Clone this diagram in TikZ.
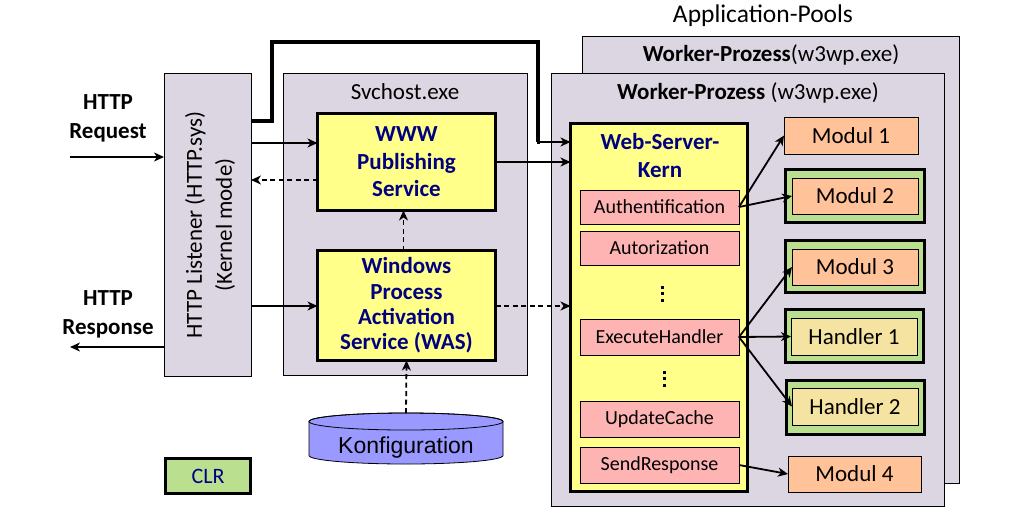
\documentclass[tikz,border=0pt]{standalone}
\usepackage{fontspec}
\setmainfont{Carlito}
\newfontfamily\arialf{Liberation Sans}
\usetikzlibrary{arrows.meta}
\definecolor{lav}{HTML}{DCD6E2}
\definecolor{yel}{HTML}{FFFF8A}
\definecolor{pinkc}{HTML}{FFB4B4}
\definecolor{oran}{HTML}{FFC299}
\definecolor{grn}{HTML}{BAE08F}
\definecolor{hand}{HTML}{F5E3A1}
\definecolor{navy}{HTML}{000080}
\definecolor{konfc}{HTML}{9999FF}
\tikzset{
  box/.style={draw, inner sep=0pt, outer sep=0pt, line width=0.8pt},
  thickbox/.style={draw, inner sep=0pt, outer sep=0pt, line width=3.5pt},
  procbox/.style={box, fill=lav},
  svcbox/.style={thickbox, fill=yel, text=navy, align=center, font=\fontsize{23}{27.5}\selectfont\bfseries},
  stepbox/.style={box, fill=pinkc, minimum width=159pt, font=\fontsize{20}{24}\selectfont},
  modbox/.style={box, fill=oran, font=\fontsize{23}{27}\selectfont},
  handbox/.style={box, fill=hand, font=\fontsize{23}{27}\selectfont},
  clrbox/.style={thickbox, fill=grn},
  lbl/.style={inner sep=0pt, outer sep=0pt, font=\fontsize{23}{28}\selectfont},
  arr/.style={-{Stealth[length=10pt,width=9pt,inset=3pt]}, line width=1.8pt},
  darr/.style={arr, dash pattern=on 5pt off 3.5pt},
  dot/.style={fill, minimum size=3pt, inner sep=0pt, outer sep=0pt, shape=rectangle},
}
\begin{document}
\begin{tikzpicture}[x=1pt,y=-1pt]
\useasboundingbox (0,0) rectangle (1017,523);
% back worker process
\node[procbox, minimum width=377pt, minimum height=447pt] (wpb) at (770.5,259.5) {};
\node[lbl, anchor=center] (wpblbl) at (771,55) {\textbf{Worker-Prozess}(w3wp.exe)};
\node[lbl, font=\fontsize{25.5}{30}\selectfont] (pools) at (763,16) {Application-Pools};
% front worker process
\node[procbox, minimum width=393pt, minimum height=433pt] (wpf) at (747.5,289.5) {};
\node[lbl] (wpflbl) at (748,93) {\textbf{Worker-Prozess} (w3wp.exe)};
% listener
\node[procbox, minimum width=87pt, minimum height=303pt] (lst) at (207.5,224.5) {};
\node[lbl, rotate=90, align=center, font=\fontsize{23}{30}\selectfont] (lsttxt) at (210,225) {HTTP Listener (HTTP.sys)\\(Kernel mode)};
% svchost
\node[procbox, minimum width=244pt, minimum height=302pt] (svc) at (405,224) {};
\node[lbl] (svclbl) at (405,92) {Svchost.exe};
\node[svcbox, minimum width=178pt, minimum height=97pt] (www) at (406.5,162) {WWW\\Publishing\\Service};
\node[svcbox, minimum width=178pt, minimum height=110pt, font=\fontsize{23}{25.3}\selectfont\bfseries] (was) at (406.5,305.5) {Windows\\Process\\Activation\\Service (WAS)};
% HTTP labels
\node[lbl, align=center, font=\fontsize{23}{29}\selectfont\bfseries] (req) at (108,118) {HTTP\\Request};
\node[lbl, align=center, font=\fontsize{23}{29}\selectfont\bfseries] (resp) at (108,314) {HTTP\\Response};
% kern
\node[thickbox, fill=yel, minimum width=177pt, minimum height=368pt] (kern) at (659,307.5) {};
\node[lbl, text=navy, align=center, font=\fontsize{23}{28}\selectfont\bfseries] (kernlbl) at (660,156) {Web-Server-\\Kern};
\node[stepbox, minimum height=34pt] (auth) at (659.5,207) {Authentification};
\node[stepbox, minimum height=34pt] (autor) at (659.5,248) {Autorization};
\foreach \yy in {287,293.5,300} {\node[dot] at (662.5,\yy) {};}
\node[stepbox, minimum height=36pt] (exec) at (659.5,337) {ExecuteHandler};
\foreach \yy in {372,378.5,385} {\node[dot] at (664,\yy) {};}
\node[stepbox, minimum height=36pt] (upd) at (659.5,419) {UpdateCache};
\node[stepbox, minimum height=36pt] (send) at (659.5,465) {SendResponse};
% modules
\node[modbox, minimum width=134pt, minimum height=37pt] (m1) at (851,135.5) {Modul 1};
\node[clrbox, minimum width=139pt, minimum height=53pt] (m2o) at (855,196) {};
\node[modbox, minimum width=126pt, minimum height=36pt] (m2) at (855,196) {Modul 2};
\node[clrbox, minimum width=139pt, minimum height=52pt] (m3o) at (855,266.5) {};
\node[modbox, minimum width=126pt, minimum height=36pt] (m3) at (855,267) {Modul 3};
\node[clrbox, minimum width=138pt, minimum height=53pt] (h1o) at (854.5,336) {};
\node[handbox, minimum width=126pt, minimum height=37pt] (h1) at (854,336.5) {Handler 1};
\node[clrbox, minimum width=138pt, minimum height=54pt] (h2o) at (855.5,407.5) {};
\node[handbox, minimum width=126pt, minimum height=37pt] (h2) at (855,406.5) {Handler 2};
\node[modbox, minimum width=133pt, minimum height=36pt] (m4) at (854.5,474) {Modul 4};
% CLR
\node[clrbox, minimum width=85pt, minimum height=35pt, text=navy, font=\fontsize{22}{26}\selectfont] (clr) at (208,476) {CLR};
% Konfiguration cylinder
\filldraw[fill=konfc, line width=0.8pt] (309,421.5) -- (309,455.5) arc[start angle=180, end angle=360, x radius=97pt, y radius=8.5pt] -- (503,421.5) arc[start angle=0, end angle=180, x radius=97pt, y radius=8.5pt] -- cycle;
\draw[line width=0.8pt] (406,421.5) ellipse [x radius=97pt, y radius=8.5pt];
\node[inner sep=0pt, outer sep=0pt, minimum width=194pt, minimum height=51pt] (konf) at (406,438.5) {};
\node[lbl, font=\arialf\fontsize{23}{27}\selectfont] (konflbl) at (406,448) {Konfiguration};
% connectors
\coordinate (reqstart) at (70,157);
\coordinate (respend) at (70,347);
\draw[arr] (reqstart) -- (reqstart -| lst.west);
\draw[arr] (lst.west |- respend) -- (respend);
\draw[arr] (lst.east |- 0,143) -- (www.west |- 0,143);
\draw[darr] (www.west |- 0,180) -- (lst.east |- 0,180);
\draw[arr] (lst.east |- 0,306) -- (was.west |- 0,306);
\draw[darr] ([xshift=-3pt]was.north) -- ([xshift=-3pt]www.south);
\draw[darr] (konf.north) -- (was.south);
\draw[arr] (www.east |- 0,162) -- (kern.west |- 0,162);
\draw[darr] (was.east |- 0,306) -- (kern.west |- 0,306);
\coordinate (bend1) at (272,121);
\coordinate (bend2) at (272,42);
\coordinate (bend3) at (538,42);
\coordinate (bend4) at (538,142);
\draw[line width=3.3pt, line join=miter] (lst.east |- bend1) -- (bend1) -- (bend2) -- (bend3) -- (bend4) -- ([xshift=-1pt]bend4);
\draw[arr] (bend4) -- (kern.west |- bend4);
\draw[arr] (auth.east) -- (m1.west);
\draw[arr] (auth.east) -- (m2.west);
\draw[arr] (exec.east) -- (m3.west);
\draw[arr] (exec.east) -- (h1.west);
\draw[arr] (exec.east) -- (h2.west);
\draw[arr] (send.east) -- (m4.west);
\end{tikzpicture}
\end{document}
